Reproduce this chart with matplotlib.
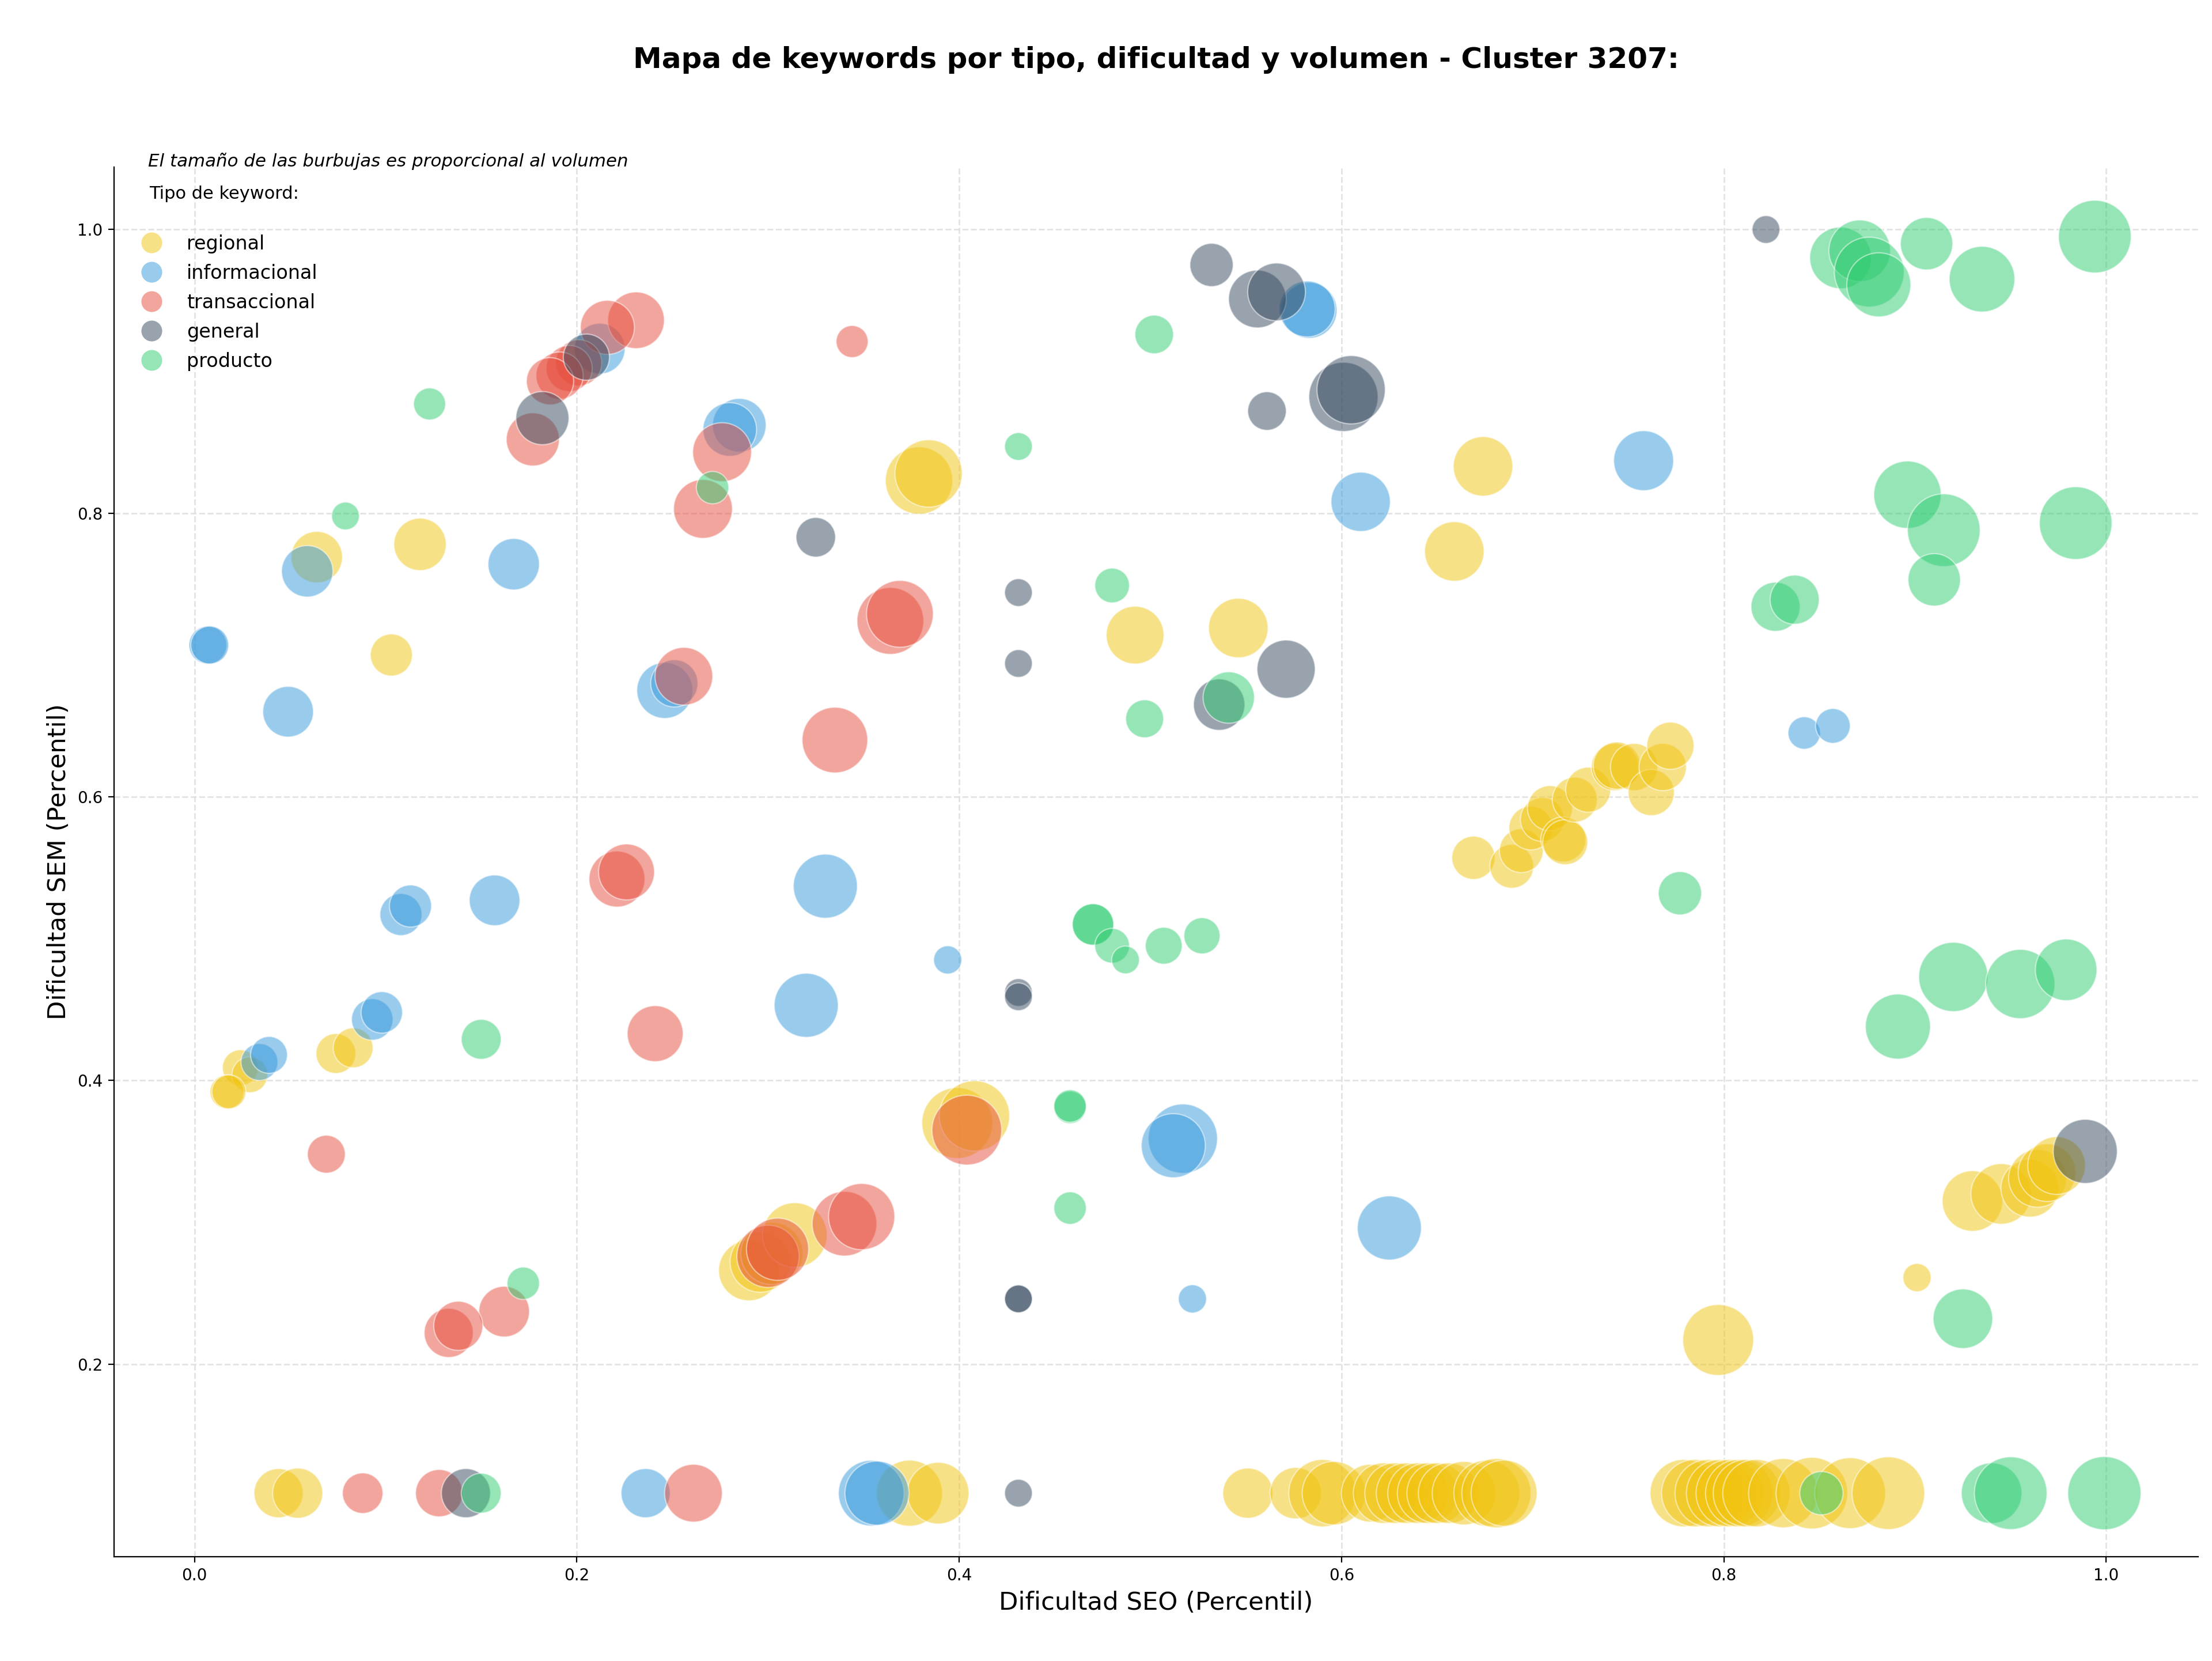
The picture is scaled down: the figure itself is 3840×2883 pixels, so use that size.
import matplotlib
matplotlib.use("Agg")
import matplotlib.pyplot as plt
from matplotlib.lines import Line2D

# ---- data (percentiles) ----
tipos = ["regional", "informacional", "transaccional", "general", "producto"]
colores = {"regional": "#F1C40F", "informacional": "#3498DB", "transaccional": "#E74C3C",
           "general": "#34495E", "producto": "#2ECC71"}

regional_seo = [0.064, 0.118, 0.103, 0.379, 0.384, 0.492, 0.674, 0.659, 0.546,
                0.669, 0.689, 0.694, 0.699, 0.705, 0.709, 0.716, 0.717, 0.722, 0.729,
                0.743, 0.744, 0.753, 0.762, 0.768, 0.772,
                0.074, 0.083, 0.024, 0.029, 0.017, 0.018, 0.399, 0.408,
                0.290, 0.296, 0.302, 0.314,
                0.930, 0.945, 0.960, 0.964, 0.969, 0.974, 0.901, 0.797,
                0.044, 0.054, 0.374, 0.389, 0.551, 0.576, 0.590, 0.596, 0.615, 0.622,
                0.628, 0.634, 0.640, 0.645, 0.650, 0.656, 0.664, 0.676, 0.681, 0.685,
                0.779, 0.785, 0.792, 0.798, 0.803, 0.808, 0.812, 0.817, 0.831, 0.846,
                0.866, 0.886]
regional_sem = [0.769, 0.778, 0.700, 0.823, 0.828, 0.714, 0.833, 0.773, 0.719,
                0.557, 0.551, 0.562, 0.578, 0.584, 0.592, 0.570, 0.568, 0.598, 0.605,
                0.621, 0.622, 0.621, 0.603, 0.621, 0.636,
                0.419, 0.423, 0.409, 0.404, 0.392, 0.392, 0.370, 0.375,
                0.266, 0.272, 0.278, 0.291,
                0.315, 0.320, 0.324, 0.331, 0.335, 0.340, 0.261, 0.217,
                0.109, 0.109, 0.109, 0.109, 0.109, 0.109, 0.109, 0.109, 0.109, 0.109,
                0.109, 0.109, 0.109, 0.109, 0.109, 0.109, 0.109, 0.109, 0.109, 0.109,
                0.109, 0.109, 0.109, 0.109, 0.109, 0.109, 0.109, 0.109, 0.109, 0.109,
                0.109, 0.109]
regional_vol = [10.3, 10.7, 6.9, 17.7, 17.7, 13.0, 13.8, 13.8, 13.8,
                7.3, 7.5, 7.5, 7.5, 7.5, 7.9, 7.9, 7.9, 7.9, 7.9,
                8.7, 8.7, 8.7, 8.3, 8.7, 8.7,
                6.2, 6.2, 5.0, 5.0, 4.5, 4.5, 19.6, 19.3,
                14.3, 14.3, 15.1, 16.3,
                14.3, 14.3, 13.0, 13.0, 13.0, 13.0, 3.1, 19.6,
                9.4, 9.8, 17.0, 14.8, 9.8, 10.3, 17.7, 15.7, 13.0, 14.3,
                14.3, 14.3, 14.3, 14.3, 14.3, 14.3, 15.7, 17.0, 18.7, 17.0,
                17.7, 17.7, 17.7, 17.7, 17.7, 17.7, 17.7, 17.7, 18.7, 20.0,
                19.6, 20.6]

info_seo = [0.007, 0.008, 0.059, 0.167, 0.049, 0.212, 0.285, 0.280, 0.246, 0.251,
            0.583, 0.582, 0.610, 0.758, 0.842, 0.857, 0.108, 0.113, 0.157,
            0.093, 0.098, 0.034, 0.039, 0.330, 0.394, 0.320, 0.517, 0.512,
            0.625, 0.522, 0.236, 0.354, 0.357]
info_sem = [0.707, 0.707, 0.759, 0.764, 0.660, 0.916, 0.862, 0.859, 0.675, 0.680,
            0.943, 0.944, 0.808, 0.837, 0.645, 0.650, 0.517, 0.523, 0.527,
            0.443, 0.448, 0.413, 0.418, 0.537, 0.485, 0.453, 0.359, 0.354,
            0.296, 0.246, 0.109, 0.109, 0.109]
info_vol = [5.6, 5.6, 10.3, 10.3, 10.0, 10.0, 11.2, 11.2, 12.2, 8.7,
            12.2, 12.2, 13.7, 14.0, 4.1, 4.7, 6.9, 6.9, 10.0,
            6.7, 6.7, 5.3, 5.3, 16.0, 3.1, 16.0, 18.7, 16.0,
            16.0, 3.1, 9.4, 16.8, 16.0]

trans_seo = [0.231, 0.216, 0.201, 0.196, 0.191, 0.186, 0.177, 0.344, 0.276, 0.266,
             0.364, 0.369, 0.335, 0.256, 0.221, 0.226, 0.241, 0.069, 0.162,
             0.133, 0.138, 0.404, 0.300, 0.305, 0.340, 0.349,
             0.088, 0.128, 0.261]
trans_sem = [0.936, 0.931, 0.906, 0.902, 0.897, 0.893, 0.852, 0.921, 0.843, 0.803,
             0.724, 0.729, 0.640, 0.685, 0.542, 0.547, 0.433, 0.348, 0.237,
             0.222, 0.227, 0.365, 0.276, 0.281, 0.299, 0.304,
             0.109, 0.109, 0.109]
trans_vol = [12.5, 11.4, 8.3, 8.3, 8.7, 8.7, 11.0, 4.0, 13.5, 13.5,
             17.4, 17.4, 16.8, 13.0, 12.2, 12.2, 12.2, 5.6, 10.0,
             9.4, 9.4, 19.0, 15.1, 15.1, 16.3, 17.1,
             6.4, 8.7, 13.0]

gen_seo = [0.205, 0.182, 0.325, 0.431, 0.431, 0.532, 0.556, 0.566, 0.561, 0.601,
           0.605, 0.571, 0.536, 0.822, 0.989, 0.431, 0.431, 0.431, 0.431,
           0.142, 0.431]
gen_sem = [0.910, 0.867, 0.783, 0.744, 0.694, 0.975, 0.951, 0.956, 0.872, 0.882,
           0.887, 0.690, 0.665, 1.000, 0.350, 0.462, 0.459, 0.246, 0.246,
           0.109, 0.109]
gen_vol = [8.3, 11.0, 6.1, 3.0, 3.0, 7.3, 13.0, 13.0, 5.8, 18.7,
           18.2, 13.2, 10.3, 3.0, 16.0, 3.0, 3.0, 3.0, 3.0,
           9.4, 3.0]

prod_seo = [0.123, 0.079, 0.502, 0.271, 0.431, 0.480, 0.497, 0.541,
            0.861, 0.871, 0.876, 0.881, 0.906, 0.935, 0.994,
            0.896, 0.915, 0.910, 0.984, 0.827, 0.837, 0.777,
            0.891, 0.920, 0.955, 0.979, 0.925,
            0.150, 0.172, 0.470, 0.470, 0.480, 0.487, 0.507, 0.527,
            0.458, 0.458, 0.458,
            0.150, 0.851, 0.940, 0.950, 0.999]
prod_sem = [0.877, 0.798, 0.926, 0.818, 0.847, 0.749, 0.655, 0.670,
            0.980, 0.985, 0.970, 0.961, 0.990, 0.965, 0.995,
            0.813, 0.788, 0.753, 0.793, 0.734, 0.739, 0.532,
            0.438, 0.473, 0.468, 0.478, 0.232,
            0.429, 0.257, 0.510, 0.510, 0.495, 0.485, 0.495, 0.502,
            0.381, 0.382, 0.310,
            0.109, 0.109, 0.109, 0.109, 0.109]
prod_vol = [4.0, 3.0, 5.8, 4.1, 3.0, 4.7, 5.6, 10.3,
            14.8, 14.8, 19.0, 16.0, 10.7, 16.8, 20.6,
            17.7, 20.6, 10.7, 20.6, 9.4, 9.4, 7.3,
            16.5, 18.7, 18.7, 14.8, 13.8,
            6.2, 4.1, 6.7, 6.7, 4.7, 3.0, 5.3, 5.1,
            4.1, 4.1, 4.1,
            6.2, 7.3, 14.3, 20.6, 20.9]

series = {
    "regional": (regional_seo, regional_sem, regional_vol),
    "informacional": (info_seo, info_sem, info_vol),
    "transaccional": (trans_seo, trans_sem, trans_vol),
    "general": (gen_seo, gen_sem, gen_vol),
    "producto": (prod_seo, prod_sem, prod_vol),
}

# ---- plot ----
fig = plt.figure(figsize=(19.2, 14.415), dpi=200)
ax = fig.add_axes([0.0516, 0.0628, 0.9421, 0.8366])

for t in tipos:
    xs, ys, vol = series[t]
    ax.scatter(xs, ys, s=[v * 100 for v in vol], color=colores[t], alpha=0.5,
               edgecolors="white", linewidths=0.8, zorder=3)

ax.set_xlim(-0.042, 1.048)
ax.set_ylim(0.0642, 1.044)
ax.grid(True, linestyle="--", color="#dddddd", linewidth=1.0, alpha=0.8)
ax.set_axisbelow(True)
for side in ("top", "right"):
    ax.spines[side].set_visible(False)
ax.tick_params(labelsize=10)

ax.set_xlabel("Dificultad SEO (Percentil)", fontsize=15.6)
ax.set_ylabel("Dificultad SEM (Percentil)", fontsize=15.6)
ax.set_title("Mapa de keywords por tipo, dificultad y volumen - Cluster 3207:",
             fontsize=18, fontweight="bold", pad=62)

# note + legend heading
ax.text(0.0162, 1.004, "El tamaño de las burbujas es proporcional al volumen",
        transform=ax.transAxes, fontsize=11.1, style="italic", va="center", ha="left")
ax.text(0.0169, 0.9807, "Tipo de keyword:", transform=ax.transAxes,
        fontsize=11, va="center", ha="left")

handles = [Line2D([0], [0], marker="o", linestyle="", markersize=13,
                  markerfacecolor=colores[t], markeredgecolor="none",
                  alpha=0.5, label=t) for t in tipos]
ax.legend(handles=handles, loc="upper left", bbox_to_anchor=(0.0003, 0.964),
          frameon=False, fontsize=12, handlelength=2.0, handletextpad=0.84,
          labelspacing=0.54)

fig.savefig("out.png", dpi=200)
